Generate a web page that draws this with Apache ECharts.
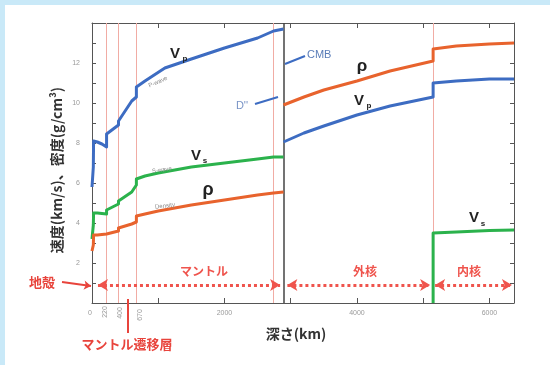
<!DOCTYPE html>
<html>
<head>
<meta charset="utf-8">
<script src="https://cdn.jsdelivr.net/npm/echarts/dist/echarts.min.js"></script>
<style>
html, body { margin: 0; padding: 0; background: #c9e9f8; }
#panel { position: absolute; left: 5px; top: 5px; width: 545px; height: 360px; background: #ffffff; }
#chart { position: absolute; left: 0; top: 0; width: 550px; height: 365px; }
</style>
</head>
<body>
<div id="panel"></div>
<div id="chart"></div>
<script>
// Earth's interior: seismic velocities and density against depth (km)
const earthRadius = 6371;
const xLabelValues = [0, 2000, 4000, 6000];
const yLabelValues = [2, 4, 6, 8, 10, 12];

// Mantle (including crust), [depth km, value]
const vpMantle = [[0,5.8],[20,5.8],[20,6.8],[24,6.8],[24,8.1],[80,8.05],[150,7.95],[220,7.8],[220,8.45],[300,8.65],[400,8.9],[400,9.1],[500,9.6],[600,10.1],[670,10.3],[670,10.8],[800,11.1],[1100,11.75],[1500,12.2],[2000,12.75],[2500,13.25],[2741,13.6],[2891,13.7]];
const vsMantle = [[0,3.2],[20,3.2],[20,3.9],[24,3.9],[24,4.5],[80,4.5],[220,4.45],[220,4.65],[400,4.95],[400,5.1],[600,5.55],[670,5.9],[670,6.2],[800,6.35],[1000,6.5],[1500,6.8],[2000,7.0],[2500,7.2],[2741,7.3],[2891,7.3]];
const rhoMantle = [[0,2.6],[20,2.6],[20,2.9],[24,2.9],[24,3.4],[80,3.4],[220,3.45],[220,3.5],[400,3.6],[400,3.75],[600,3.95],[670,4.05],[670,4.35],[800,4.45],[1000,4.6],[1500,4.9],[2000,5.15],[2500,5.4],[2741,5.5],[2891,5.55]];

// Core
const vpCore = [[2891,8.05],[3200,8.5],[3500,8.85],[4000,9.4],[4500,9.85],[5150,10.3],[5150,11.0],[5500,11.1],[6000,11.2],[6371,11.2]];
const rhoCore = [[2891,9.9],[3200,10.3],[3500,10.65],[4000,11.1],[4500,11.6],[5150,12.1],[5150,12.7],[5500,12.85],[6000,12.95],[6371,13.0]];
const vsInnerCore = [[5150,0],[5150,3.5],[5500,3.55],[6000,3.63],[6371,3.65]];

// Discontinuities
const boundaryDepths = [220, 400, 670, 2741, 5150];
const cmbDepth = 2891;
const boundaryTickLabels = ['220', '400', '670'];

// Layer spans for the dotted double arrows
const arrowLevel = 0.9;
const layerSpans = [[90, 2840], [2950, 5105], [5180, 6340]];
const layerNames = ['マントル', '外核', '内核'];

const BLUE = '#3d6cc2';
const ORANGE = '#e8632d';
const GREEN = '#2bb24c';
const RED = '#e8443c';
const RED_SOFT = '#ef544d';
const LINE_RED = '#f1aca4';
const JP = '"Noto Sans CJK JP", sans-serif';
const LAT = '"Liberation Sans", Arial, sans-serif';

const chart = echarts.init(document.getElementById('chart'), null, { renderer: 'canvas' });

function curve(name, data, color) {
  return {
    name, type: 'line', data, showSymbol: false, symbol: 'none', silent: true,
    lineStyle: { color, width: 3, join: 'round' }, z: 5
  };
}

const axisLineStyle = { color: '#555', width: 1 };

function xAxisDef(position, showLabels) {
  return {
    type: 'value', min: 0, max: earthRadius, interval: 1000, position,
    axisLine: { show: true, onZero: false, lineStyle: axisLineStyle },
    axisTick: { show: true, inside: true, length: 5, lineStyle: axisLineStyle },
    axisLabel: {
      show: showLabels, fontSize: 7, color: '#9a9a9a', margin: 7, fontFamily: LAT,
      formatter: v => xLabelValues.includes(v) ? String(v) : '',
      alignMinLabel: 'right'
    },
    splitLine: { show: false }
  };
}

function yAxisDef(position, showLabels) {
  return {
    type: 'value', min: 0, max: 14, interval: 1, position,
    axisLine: { show: true, onZero: false, lineStyle: axisLineStyle },
    axisTick: { show: true, inside: true, length: 4, lineStyle: axisLineStyle },
    axisLabel: {
      show: showLabels, fontSize: 7, color: '#9a9a9a', margin: 12, fontFamily: LAT,
      formatter: v => yLabelValues.includes(v) ? String(v) : ''
    },
    splitLine: { show: false }
  };
}

function txt(x, y, text, font, fill, extra) {
  return Object.assign({
    type: 'text', x, y, silent: true, z: 20,
    style: { text, font, fill, textAlign: 'center', textVerticalAlign: 'middle' }
  }, extra || {});
}

function leader(x1, y1, x2, y2, color) {
  return { type: 'line', silent: true, z: 20, shape: { x1, y1, x2, y2 }, style: { stroke: color, lineWidth: 2 } };
}

const graphics = [
  // curve names
  txt(175, 54, 'V', 'bold 15px ' + LAT, '#222'),
  txt(185, 59, 'p', 'bold 8px ' + LAT, '#222'),
  txt(196, 156, 'V', 'bold 15px ' + LAT, '#222'),
  txt(205, 161, 's', 'bold 8px ' + LAT, '#222'),
  txt(208, 190, 'ρ', 'bold 18px ' + LAT, '#222'),
  txt(362, 66, 'ρ', 'bold 17px ' + LAT, '#222'),
  txt(359, 101, 'V', 'bold 15px ' + LAT, '#222'),
  txt(369, 106, 'p', 'bold 8px ' + LAT, '#222'),
  txt(474, 218, 'V', 'bold 15px ' + LAT, '#222'),
  txt(483, 224, 's', 'bold 8px ' + LAT, '#222'),
  // small curve captions
  txt(158, 82, 'P-wave', '6px ' + LAT, '#8a8a8a', { rotation: 0.42 }),
  txt(162, 170, 'S-wave', '6px ' + LAT, '#8a8a8a', { rotation: 0.14 }),
  txt(165, 206, 'Density', '6px ' + LAT, '#8a8a8a', { rotation: 0.12 }),
  // CMB and D'' callouts
  leader(285, 64, 305, 56, BLUE),
  txt(307, 55, 'CMB', '11px ' + LAT, '#5a7db8', { style: { text: 'CMB', font: '11px ' + LAT, fill: '#5a7db8', textAlign: 'left', textVerticalAlign: 'middle' } }),
  leader(255, 104, 278, 97, BLUE),
  txt(242, 106, "D''", '11px ' + LAT, '#7893c6'),
  // layer names
  txt(42, 282, '地殻', 'bold 13px ' + JP, RED),
  txt(204, 271, layerNames[0], 'bold 12px ' + JP, RED_SOFT),
  txt(365, 271, layerNames[1], 'bold 12px ' + JP, RED_SOFT),
  txt(469, 271, layerNames[2], 'bold 12px ' + JP, RED_SOFT),
  txt(127, 344, 'マントル遷移層', 'bold 13px ' + JP, RED),
  // axis titles
  txt(296, 334, '深さ(km)', 'bold 14px ' + JP, '#333'),
  txt(57, 170, '速度(km/s)、密度(g/cm³)', 'bold 14px ' + JP, '#333', { rotation: Math.PI / 2 }),
  // discontinuity depth labels
  txt(105, 312, boundaryTickLabels[0], '7px ' + LAT, '#9a9a9a', { rotation: Math.PI / 2 }),
  txt(120, 313, boundaryTickLabels[1], '7px ' + LAT, '#9a9a9a', { rotation: Math.PI / 2 }),
  txt(140, 315, boundaryTickLabels[2], '7px ' + LAT, '#9a9a9a', { rotation: Math.PI / 2 })
];

const option = {
  animation: false,
  backgroundColor: 'transparent',
  grid: { left: 92, top: 23, right: 36, bottom: 62 },
  xAxis: [xAxisDef('bottom', true), xAxisDef('top', false)],
  yAxis: [yAxisDef('left', true), yAxisDef('right', false)],
  series: [
    {
      // layer boundaries and the core-mantle boundary
      type: 'line', data: [], silent: true, clip: false, z: 3,
      markLine: {
        silent: true, symbol: 'none', animation: false, label: { show: false },
        data: boundaryDepths.map(d => ({ xAxis: d, lineStyle: { color: LINE_RED, width: 1, type: 'solid' } }))
          .concat([{ xAxis: cmbDepth, lineStyle: { color: '#444', width: 1.5, type: 'solid' } }])
      }
    },
    curve('Vp', vpMantle, BLUE),
    curve('Vs', vsMantle, GREEN),
    curve('ρ', rhoMantle, ORANGE),
    curve('Vp core', vpCore, BLUE),
    curve('ρ core', rhoCore, ORANGE),
    curve('Vs inner core', vsInnerCore, GREEN),
    {
      // dotted double arrows spanning each layer
      type: 'line', data: [], silent: true, clip: false, z: 6,
      markLine: {
        silent: true, animation: false, symbol: ['arrow', 'arrow'], symbolSize: [9, 10],
        label: { show: false },
        lineStyle: { color: RED_SOFT, width: 3, type: [3, 3] },
        data: layerSpans.map(([a, b]) => [{ coord: [a, arrowLevel] }, { coord: [b, arrowLevel] }])
      }
    },
    {
      // pointers for the crust and the transition zone
      type: 'line', data: [], silent: true, clip: false, z: 6,
      markLine: {
        silent: true, animation: false, label: { show: false },
        data: [
          [{ x: 62, y: 282, symbol: 'none', lineStyle: { color: RED, width: 2, type: 'solid' } },
           { x: 91, y: 286, symbol: 'arrow', symbolSize: 7 }],
          [{ x: 128, y: 299, symbol: 'none', lineStyle: { color: RED, width: 2, type: 'solid' } },
           { x: 128, y: 333, symbol: 'none' }]
        ]
      }
    }
  ],
  graphic: graphics
};

chart.setOption(option);
</script>
</body>
</html>
